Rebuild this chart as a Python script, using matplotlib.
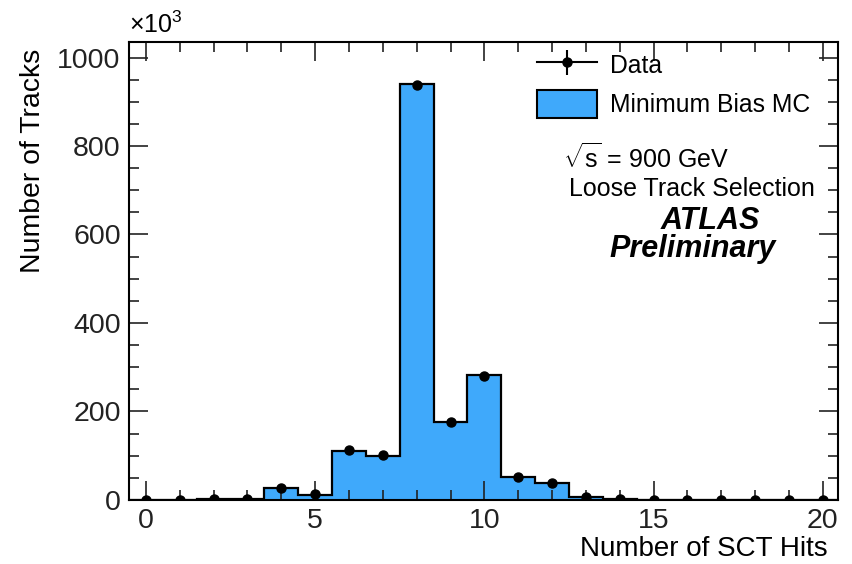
import matplotlib
matplotlib.use("Agg")
import matplotlib.pyplot as plt
import numpy as np
from matplotlib.ticker import MultipleLocator
from matplotlib.patches import Patch
from matplotlib.lines import Line2D

plt.rcParams['font.family'] = ['Liberation Sans', 'DejaVu Sans']
plt.rcParams['mathtext.fontset'] = 'custom'
plt.rcParams['mathtext.rm'] = 'Liberation Sans'
plt.rcParams['mathtext.it'] = 'Liberation Sans:italic'

# number of SCT hits per track (bin centres), counts in units of 10^3
sct_hits = np.arange(0, 21)
mc_tracks = [0.5, 0.8, 2.0, 1.5, 27, 11, 111, 100, 939, 177, 282,
             53, 39, 7, 2.5, 1.0, 0.5, 0.3, 0.2, 0.1, 0.1]
data_tracks = [0.5, 0.8, 2.0, 1.5, 27, 14, 112, 102, 938, 177, 280,
               52, 38, 7, 2.5, 1.0, 0.5, 0.3, 0.2, 0.1, 0.1]

fill_col = '#3fa9fb'

fig = plt.figure(figsize=(8.52, 5.64), dpi=100)
ax = fig.add_axes([0.1514, 0.1135, 0.8322, 0.812])

edges = np.append(sct_hits - 0.5, sct_hits[-1] + 0.5)
ax.stairs(mc_tracks, edges, fill=True, facecolor=fill_col, edgecolor='none')
ax.stairs(mc_tracks, edges, color='black', linewidth=1.6)
ax.plot(sct_hits, data_tracks, 'o', color='black', markersize=6.5, zorder=5)

ax.set_xlim(-0.5, 20.45)
ax.set_ylim(0, 1035)
ax.xaxis.set_major_locator(MultipleLocator(5))
ax.xaxis.set_minor_locator(MultipleLocator(1))
ax.yaxis.set_major_locator(MultipleLocator(200))
ax.yaxis.set_minor_locator(MultipleLocator(50))
ax.tick_params(which='both', direction='in', top=True, right=True,
               width=1.2, labelsize=20.5, colors='#222222')
ax.tick_params(which='major', length=14, pad=6)
ax.tick_params(which='minor', length=7)
for sp in ax.spines.values():
    sp.set_linewidth(1.5)

ax.set_xlabel('Number of SCT Hits', fontsize=20, x=0.985, ha='right', labelpad=1)
ax.set_ylabel('Number of Tracks', fontsize=20.4, y=0.985, ha='right', labelpad=8)
ax.text(-0.5, 1045, r'$\times10^{3}$', fontsize=18, ha='left', va='bottom')

data_h = (Line2D([0], [0], color='black', linewidth=1.5),
          Line2D([0], [0], color='black', marker='o', markersize=6.5, linestyle='none'),
          Line2D([0], [0], color='black', marker='|', markersize=18,
                 markeredgewidth=1.5, linestyle='none'))
handles = [data_h, Patch(facecolor=fill_col, edgecolor='black', linewidth=1.5)]
leg = ax.legend(handles, ['Data', 'Minimum Bias MC'], loc='upper left',
                bbox_to_anchor=(537 / 852, 1 - 50.5 / 564),
                bbox_transform=fig.transFigure, frameon=False, fontsize=17.8,
                handlelength=2.43, handleheight=1.35, labelspacing=0.49,
                handletextpad=0.53, borderpad=0, borderaxespad=0)

ax.text(0.612, 0.747, r'$\sqrt{\mathrm{s}}$ = 900 GeV', transform=ax.transAxes,
        fontsize=18, ha='left', va='center')
ax.text(0.6206, 0.678, 'Loose Track Selection', transform=ax.transAxes,
        fontsize=18, ha='left', va='center')
ax.text(0.8195, 0.609, 'ATLAS', transform=ax.transAxes, fontsize=22,
        fontweight='bold', fontstyle='italic', ha='center', va='center')
ax.text(0.7955, 0.548, 'Preliminary', transform=ax.transAxes, fontsize=22,
        fontweight='bold', fontstyle='italic', ha='center', va='center')

fig.savefig('out.png', dpi=100)
